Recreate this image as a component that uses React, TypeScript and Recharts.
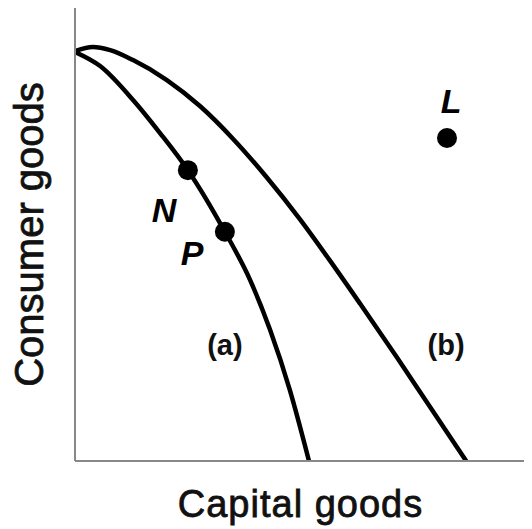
import { ComposedChart, Line, Scatter, XAxis, YAxis, Label } from "recharts"

// production possibility frontiers (capital goods x, consumer goods y)
const curveA = [
  { x: 0, y: 90.3 },
  { x: 5.5, y: 87.2 },
  { x: 12.7, y: 79.7 },
  { x: 18.6, y: 72.4 },
  { x: 24.7, y: 64.2 },
  { x: 32.8, y: 50.6 },
  { x: 38.3, y: 40.0 },
  { x: 42.7, y: 28.9 },
  { x: 47.0, y: 15.7 },
  { x: 51.2, y: 0 },
]

const curveB = [
  { x: 0, y: 90.5 },
  { x: 3.9, y: 91.4 },
  { x: 7.7, y: 90.7 },
  { x: 12.7, y: 88.5 },
  { x: 20.1, y: 84.1 },
  { x: 27.4, y: 78.3 },
  { x: 34.6, y: 71.1 },
  { x: 41.8, y: 62.8 },
  { x: 49.2, y: 53.4 },
  { x: 55.6, y: 44.5 },
  { x: 62.4, y: 34.7 },
  { x: 70.5, y: 22.8 },
  { x: 77.7, y: 11.9 },
  { x: 85.6, y: 0 },
]

const points = [
  { name: "N", x: 24.7, y: 64.2 },
  { name: "P", x: 32.8, y: 50.6 },
  { name: "L", x: 81.4, y: 71.3 },
]

// text anchors, in data units
const letterLabels = [
  { text: "N", x: 19.5, y: 52.8 },
  { text: "P", x: 25.6, y: 43.3 },
  { text: "L", x: 82.3, y: 76.8 },
]
const curveLabels = [
  { text: "(a)", x: 32.8, y: 23.4 },
  { text: "(b)", x: 81.2, y: 23.4 },
]

const font = "'Liberation Sans', Arial, sans-serif"

export default function App() {
  return (
    <ComposedChart
      width={524}
      height={521}
      margin={{ top: 0, right: 0, bottom: 67, left: 66 }}
      style={{ background: "#fff", overflow: "visible" }}
    >
      <XAxis
        dataKey="x"
        type="number"
        domain={[0, 100]}
        allowDataOverflow
        height={1}
        tick={false}
        tickLine={false}
        axisLine={{ stroke: "#888", strokeWidth: 2 }}
      >
        <Label
          content={({ viewBox }: any) => (
            <text
              x={viewBox.x + viewBox.width / 2 - 3}
              y={509}
              textAnchor="middle"
              fontFamily={font}
              fontSize={38}
              letterSpacing={1}
              fill="#111"
              stroke="#111"
              strokeWidth={0.8}
            >
              Capital goods
            </text>
          )}
        />
      </XAxis>
      <YAxis
        dataKey="y"
        type="number"
        domain={[0, 100]}
        allowDataOverflow
        width={1}
        tick={false}
        tickLine={false}
        axisLine={{ stroke: "#888", strokeWidth: 2 }}
      >
        <Label
          content={({ viewBox }: any) => {
            const cy = viewBox.y + viewBox.height / 2
            return (
              <text
                x={35}
                y={cy}
                transform={`rotate(-90, 35, ${cy})`}
                textAnchor="middle"
                fontFamily={font}
                fontSize={40}
                fill="#111"
                stroke="#111"
                strokeWidth={0.8}
              >
                Consumer goods
              </text>
            )
          }}
        />
      </YAxis>
      <Line
        data={curveA}
        dataKey="y"
        type="monotone"
        stroke="#000"
        strokeWidth={4.5}
        dot={false}
        isAnimationActive={false}
      />
      <Line
        data={curveB}
        dataKey="y"
        type="monotone"
        stroke="#000"
        strokeWidth={4.5}
        dot={false}
        isAnimationActive={false}
      />
      <Scatter
        data={points}
        dataKey="y"
        isAnimationActive={false}
        shape={(p: any) => <circle cx={p.cx} cy={p.cy} r={10} fill="#000" />}
      />
      <Scatter
        data={letterLabels}
        dataKey="y"
        isAnimationActive={false}
        shape={(p: any) => (
          <text
            x={p.cx}
            y={p.cy}
            textAnchor="middle"
            fontFamily={font}
            fontSize={34}
            fontWeight="bold"
            fontStyle="italic"
            fill="#000"
          >
            {p.payload.text}
          </text>
        )}
      />
      <Scatter
        data={curveLabels}
        dataKey="y"
        isAnimationActive={false}
        shape={(p: any) => (
          <text
            x={p.cx}
            y={p.cy}
            textAnchor="middle"
            fontFamily={font}
            fontSize={29}
            fontWeight="bold"
            fill="#111"
          >
            {p.payload.text}
          </text>
        )}
      />
    </ComposedChart>
  )
}
